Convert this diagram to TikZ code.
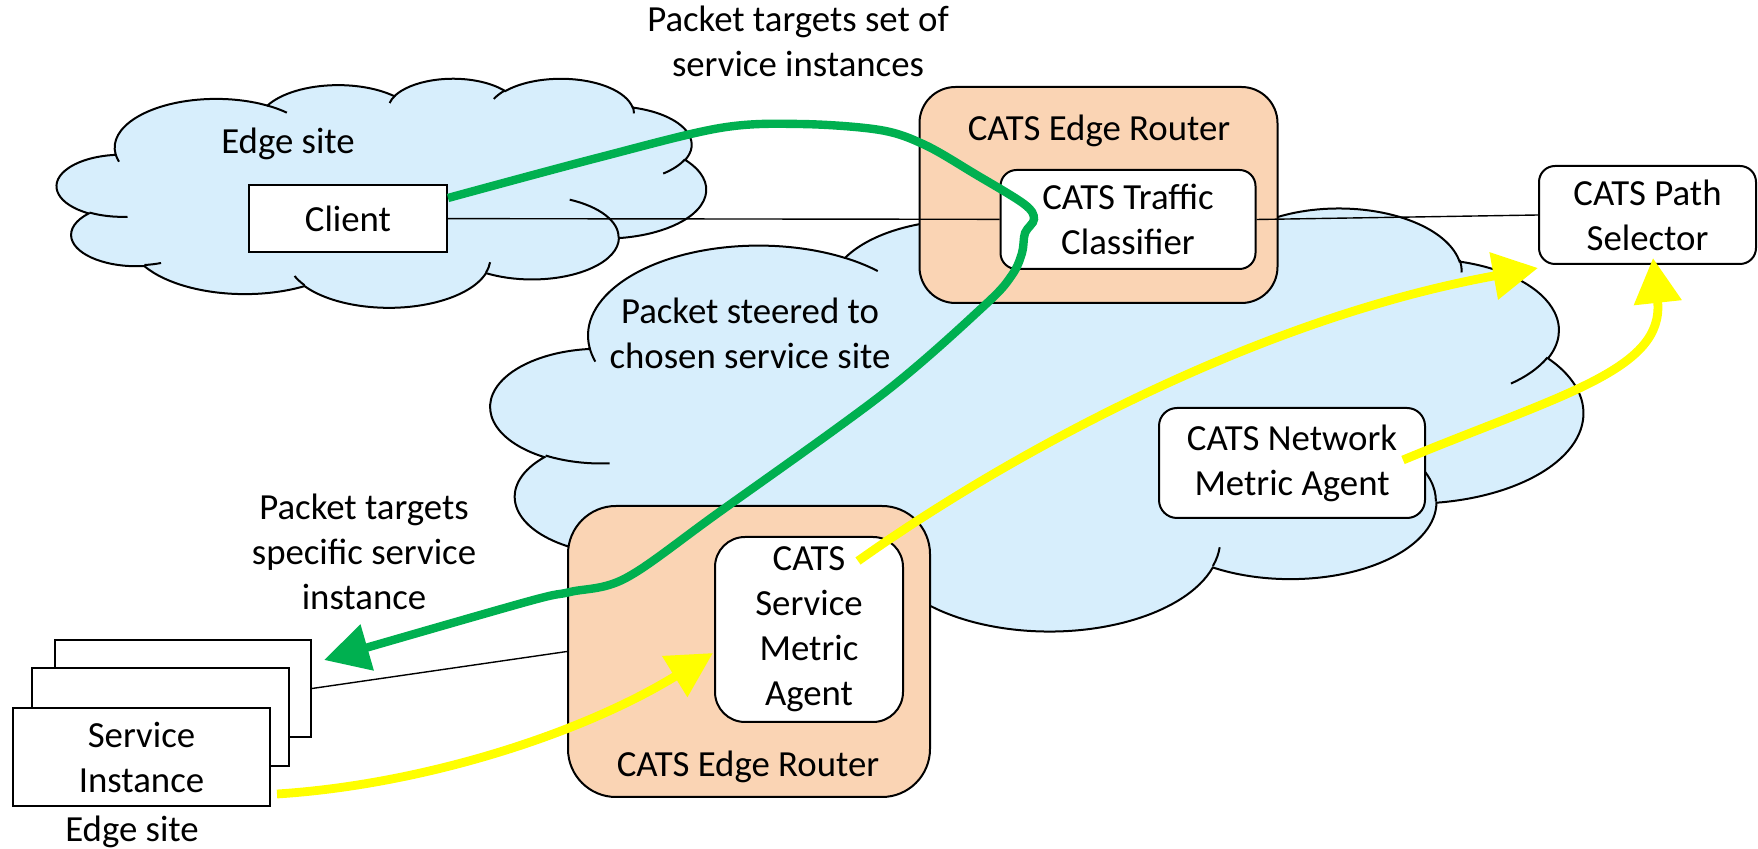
\documentclass[tikz,border=0pt]{standalone}
\usepackage{fontspec}
\setmainfont{Carlito}
\usetikzlibrary{arrows.meta}

\definecolor{cloudblue}{RGB}{215,238,252}
\definecolor{routerpeach}{RGB}{250,212,180}
\definecolor{flowgreen}{RGB}{0,176,80}
\definecolor{metricyellow}{RGB}{255,255,0}

% One arc of the cloud outline: x radius, y radius, start angle and sweep,
% the angles being visual (as measured on the ellipse), converted to the
% parametric angles that TikZ's arc expects.
\newcommand\cldarc[4]{%
  \pgfmathsetmacro\cldA{atan2((#1)*sin(#3),(#2)*cos(#3))}%
  \pgfmathsetmacro\cldB{atan2((#1)*sin((#3)+(#4)),(#2)*cos((#3)+(#4)))}%
  \pgfmathsetmacro\cldD{\cldB-\cldA}%
  \pgfmathsetmacro\cldD{\cldD+360*((#4)>0)*(\cldD<0)-360*((#4)<0)*(\cldD>0)}%
  \xdef\cldpath{\cldpath arc[start angle=\cldA, delta angle=\cldD, x radius=#1, y radius=#2]}%
}
% Outline of the cloud in a 432 x 432 box
\newcommand\cloudbody{%
  \gdef\cldpath{}%
  \cldarc{67.53}{91.90}{-190.4875}{123.7805}%
  \cldarc{53.33}{72.67}{-144.1024}{89.9452}%
  \cldarc{43.65}{59.45}{-145.8079}{99.7230}%
  \cldarc{48.57}{65.95}{-130.9861}{117.2417}%
  \cldarc{53.33}{72.73}{-78.7089}{109.0269}%
  \cldarc{67.75}{92.20}{-46.2673}{130.2690}%
  \cldarc{57.85}{78.67}{0.6250}{114.0333}%
  \cldarc{67.52}{92.15}{22.4516}{115.1726}%
  \cldarc{77.20}{105.43}{66.2426}{75.7110}%
  \cldarc{43.60}{59.18}{-274.9421}{146.7356}%
  \cldarc{43.45}{59.45}{-246.8285}{152.5189}%
}
% Short inner strokes of the cloud
\newcommand\cldhook[6]{%
  \gdef\cldpath{}\cldarc{#3}{#4}{#5}{#6}%
  \edef\cldcmd{\noexpand\draw[cloudline] (#1,#2) \cldpath;}\cldcmd}
% Whole cloud: shift x, shift y, x unit, y unit
\newcommand\drawcloud[4]{%
  \begin{scope}[shift={(#1,#2)}, x=#3, y=-#4]
    \cloudbody
    \edef\cldcmd{\noexpand\filldraw[cloudline, fill=cloudblue] (39.00,143.70) \cldpath -- cycle;}\cldcmd
    \cldhook{46.93}{261.77}{43.45}{59.45}{86.7420}{26.4295}
    \cldhook{69.28}{348.99}{43.60}{59.18}{73.6105}{11.4475}
    \cldhook{164.78}{390.90}{67.52}{92.15}{137.6242}{14.0811}
    \cldhook{288.27}{347.51}{67.52}{92.15}{6.4533}{15.9984}
    \cldhook{341.29}{229.54}{57.85}{78.67}{-70.2924}{70.9174}
    \cldhook{417.98}{153.54}{53.33}{72.73}{30.3180}{27.7515}
    \cldhook{383.24}{54.26}{48.57}{65.95}{-13.7443}{14.8589}
    \cldhook{290.78}{39.52}{48.57}{65.95}{-149.1815}{18.1954}
    \cldhook{221.41}{47.20}{43.65}{59.45}{-163.4943}{17.6864}
    \cldhook{140.00}{51.92}{67.53}{91.90}{-66.7070}{12.3194}
    \cldhook{41.27}{157.89}{67.53}{91.90}{157.6544}{11.8582}
  \end{scope}}

\begin{document}
\begin{tikzpicture}[x=0.5pt, y=-0.5pt,
  font=\fontsize{18.4pt}{22.5pt}\selectfont,
  cloudline/.style={draw=black, line width=1pt},
  box/.style={draw=black, line width=1pt, fill=white, inner sep=0pt, align=center},
  routerbox/.style={draw=black, line width=1pt, fill=routerpeach, inner sep=0pt},
  txt/.style={inner sep=0pt, align=center},
  wire/.style={draw=black, line width=0.7pt},
  greenflow/.style={draw=flowgreen, line width=4.2pt, -{Triangle[length=22.5pt, width=23pt]}},
  yellowflow/.style={draw=metricyellow, line width=4.4pt, -{Triangle[length=22.5pt, width=23pt]}}]
\useasboundingbox (0,0) rectangle (1758,849);

% clouds
\drawcloud{57}{78}{0.75116pt}{0.26505pt}
\drawcloud{491}{207}{1.26389pt}{0.48958pt}

% routers
\node[routerbox, minimum width=179pt, minimum height=108pt, rounded corners=18pt] (router1) at (1098.5,195) {};
\node[routerbox, minimum width=181pt, minimum height=145.5pt, rounded corners=24pt] (router2) at (749,651.5) {};
\node[txt] (router1lab) at (1099,131) {CATS Edge Router};
\node[txt] (router2lab) at (748,767) {CATS Edge Router};

% boxes
\node[box, minimum width=99pt, minimum height=33.5pt] (client) at (348,218.5) {Client};
\node[box, minimum width=127.5pt, minimum height=49.5pt, rounded corners=8pt] (classifier) at (1128,219.5) {CATS Traffic\\Classifier};
\node[box, minimum width=108.5pt, minimum height=49pt, rounded corners=8pt] (selector) at (1647.5,215) {CATS Path\\Selector};
\node[box, minimum width=133pt, minimum height=55pt, rounded corners=9pt] (netagent) at (1292,463) {CATS Network\\Metric Agent};
\node[box, minimum width=94pt, minimum height=92.5pt, rounded corners=15pt] (svcagent) at (809,629.5) {CATS\\Service\\Metric\\Agent};

% stacked service instances
\node[box, minimum width=128pt, minimum height=48.5pt] (inst3) at (183,688.5) {};
\node[box, minimum width=128.5pt, minimum height=49pt] (inst2) at (160.5,717) {};
\node[box, minimum width=128.5pt, minimum height=49pt] (inst1) at (141.5,757) {Service\\Instance};

% labels
\node[txt] (toplab) at (798,41) {Packet targets set of\\service instances};
\node[txt] (site1) at (288,144) {Edge site};
\node[txt] (steer) at (750,333) {Packet steered to\\chosen service site};
\node[txt] (specific) at (364,552) {Packet targets\\specific service\\instance};
\node[txt] (site2) at (132,832) {Edge site};

% thin links
\draw[wire] (client) -- (classifier);
\draw[wire] (classifier.east) -- (selector.west);
\draw[wire] (inst3.east) -- (router2.west);

% packet path
\coordinate (gstart) at (448,198);
\coordinate (gend) at (324,660);
\draw[greenflow] plot[smooth, tension=0.55] coordinates {(gstart) (597,158) (720,128) (800,124) (880,130) (925,145) (975,174) (1024,204) (1034,219) (1025,233) (1022,253) (1012,275) (985,305) (884,393) (718,513) (626,578) (570,592) (526,602) (gend)};

% metric flows
\coordinate (y1s) at (277,794);
\coordinate (y1e) at (713,653);
\draw[yellowflow] (y1s) .. controls (420,785) and (580,735) .. (y1e);
\coordinate (y2s) at (858,561);
\coordinate (y2e) at (1538,268);
\draw[yellowflow] (y2s) .. controls (1000,460) and (1250,320) .. (y2e);
\coordinate (y3s) at (1403,460);
\coordinate (y3e) at (1653,258);
\draw[yellowflow] (y3s) .. controls (1560,395) and (1665,370) .. (y3e);
\end{tikzpicture}
\end{document}
